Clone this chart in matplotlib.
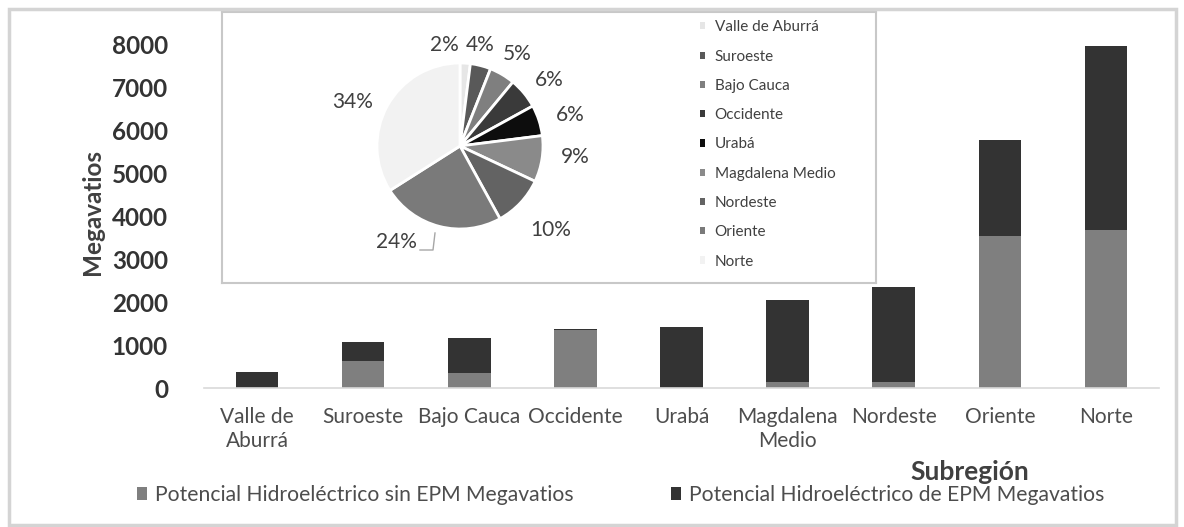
import matplotlib
matplotlib.use("Agg")
import matplotlib.pyplot as plt
from matplotlib.patches import Rectangle, Patch
import numpy as np

plt.rcParams['font.family'] = ['Lato', 'DejaVu Sans']

# Sub-regions and hydro potential (MW)
subregiones = ["Valle de\nAburrá", "Suroeste", "Bajo Cauca", "Occidente", "Urabá",
               "Magdalena\nMedio", "Nordeste", "Oriente", "Norte"]
sin_epm = [0, 630, 350, 1350, 0, 140, 140, 3540, 3680]
de_epm = [380, 440, 820, 25, 1420, 1910, 2210, 2240, 4290]
yticks = [0, 1000, 2000, 3000, 4000, 5000, 6000, 7000, 8000]

# Share of total potential by sub-region (%)
pie_labels = ["Valle de Aburrá", "Suroeste", "Bajo Cauca", "Occidente", "Urabá",
              "Magdalena Medio", "Nordeste", "Oriente", "Norte"]
pie_pct = [2, 4, 5, 6, 6, 9, 10, 24, 34]

serie_nombres = ["Potencial Hidroeléctrico sin EPM Megavatios",
                 "Potencial Hidroeléctrico de EPM Megavatios"]

W, H = 1184, 527
fig = plt.figure(figsize=(W / 100, H / 100), dpi=100)
fig.patch.set_facecolor("white")


def fx(px):
    return px / W


def fy(py):
    return 1 - py / H


TXT = "#404040"

# outer frame
fig.patches.append(Rectangle((fx(9), fy(525)), fx(1176) - fx(9), fy(9) - fy(525),
                             transform=fig.transFigure, fill=False,
                             edgecolor="#d4d4d4", linewidth=2.5))

# ---- stacked bars ----
ax = fig.add_axes([fx(204), fy(388), fx(1159) - fx(204), fy(45) - fy(388)])
x = np.arange(len(subregiones))
c_sin, c_de = "#7f7f7f", "#333333"
ax.bar(x, sin_epm, width=0.4, color=c_sin, label=serie_nombres[0], zorder=2)
ax.bar(x, de_epm, width=0.4, bottom=sin_epm, color=c_de, label=serie_nombres[1],
       zorder=2, clip_on=False)
ax.set_xlim(-0.5, len(subregiones) - 0.5)
ax.set_ylim(0, 8000)
ax.set_yticks(yticks)
ax.set_yticklabels([str(v) for v in yticks], fontsize=17.5, fontweight="bold", color="#333333")
ax.set_xticks(x)
ax.set_xticklabels(subregiones, fontsize=15, color="#4d4d4d", linespacing=1.25)
ax.tick_params(axis="y", length=0, pad=26)
ax.tick_params(axis="x", length=0, pad=14)
for s in ["top", "right", "left"]:
    ax.spines[s].set_visible(False)
ax.spines["bottom"].set_color("#d9d9d9")
ax.spines["bottom"].set_linewidth(1.2)
ax.set_facecolor("none")

fig.text(fx(92), fy(212), "Megavatios", rotation=90, ha="center", va="center",
         fontsize=17.5, fontweight="bold", color=TXT)
fig.text(fx(970), fy(472), "Subregión", ha="center", va="center",
         fontsize=19, fontweight="bold", color=TXT)

for patch_color, nombre, x0 in [(c_sin, serie_nombres[0], 122), (c_de, serie_nombres[1], 656)]:
    leg = fig.legend([Patch(facecolor=patch_color)], [nombre], loc="center left",
                     bbox_to_anchor=(fx(x0), fy(495)), frameon=False, fontsize=15.2,
                     handlelength=0.5, handleheight=0.5, handletextpad=0.35,
                     labelcolor="#4d4d4d", borderpad=0.2)

# ---- inset box ----
box = fig.add_axes([fx(222), fy(283), fx(876) - fx(222), fy(12) - fy(283)])
box.set_xticks([])
box.set_yticks([])
for s in box.spines.values():
    s.set_color("#c8c8c8")
    s.set_linewidth(1.5)
box.set_facecolor("white")

# ---- pie ----
pie_colors = ["#e6e6e6", "#595959", "#7f7f7f", "#3a3a3a", "#0d0d0d",
              "#8a8a8a", "#636363", "#7a7a7a", "#f2f2f2"]
r_px = 83
cx, cy = 460, 146
pax = fig.add_axes([fx(cx - r_px), fy(cy + r_px), 2 * r_px / W, 2 * r_px / H])
wedges, _ = pax.pie(pie_pct, colors=pie_colors, startangle=90, counterclock=False,
                    wedgeprops=dict(edgecolor="white", linewidth=2))
pax.set_xlim(-1, 1)
pax.set_ylim(-1, 1)
pax.set_aspect("auto")
pax.axis("off")

# label offsets (pixel offsets from pie centre)
label_off = [(-16, 101), (20, 101), (57, 92), (89, 66), (110, 31),
             (115, -11), (91, -84), (-64, -96), (-107, 44)]
for p, (dx, dy) in zip(pie_pct, label_off):
    pax.text(dx / r_px, dy / r_px, f"{p}%", ha="center", va="center",
             fontsize=15, color=TXT, clip_on=False)
# leader line for the Oriente label
pax.plot(np.array([-40, -27, -25]) / r_px, np.array([-104, -104, -87]) / r_px,
         color="#a6a6a6", linewidth=1, clip_on=False)

leg_handles = [Patch(facecolor=c) for c in pie_colors]
box.legend(leg_handles, pie_labels, loc="upper left", bbox_to_anchor=(0.71, 1.02),
           frameon=False, fontsize=11, handlelength=0.35, handleheight=0.35,
           handletextpad=0.6, labelspacing=1.0, labelcolor=TXT)

fig.savefig("out.png", dpi=100, facecolor="white")
